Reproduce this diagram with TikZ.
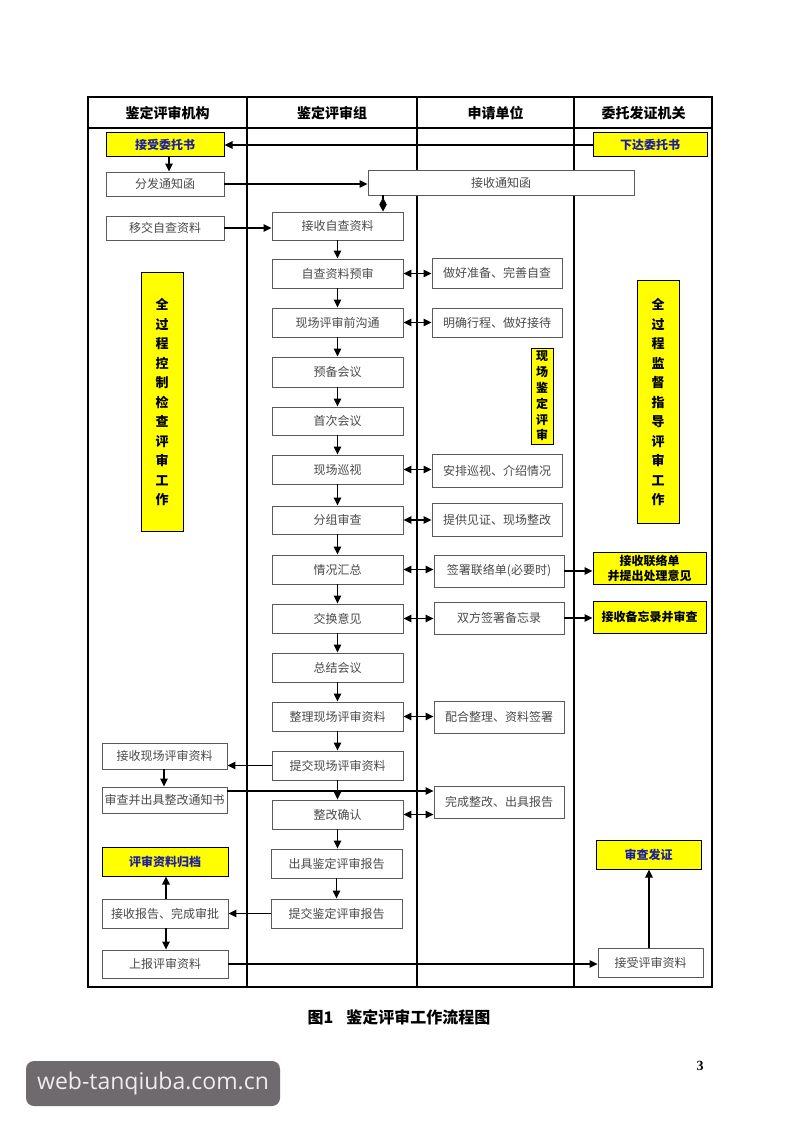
\documentclass[tikz,border=0pt]{standalone}
\usepackage{fontspec}
\setmainfont{Liberation Serif}
\newfontfamily\cjk{Noto Sans CJK SC}
\newfontfamily\wmfont{Open Sans}
\usetikzlibrary{arrows.meta}
\definecolor{boxgray}{HTML}{5A5A5A}
\definecolor{txtgray}{HTML}{4A4A4A}
\definecolor{ylw}{HTML}{FFFF00}
\definecolor{blu}{HTML}{1E1EA0}
\definecolor{wmgray}{HTML}{6E6A6E}
\definecolor{wmtext}{HTML}{EDEDED}
\newcommand\mybox[7]{\node[#6, minimum width={(#4-#2)*1pt}, minimum height={(#5-#3)*1pt}] (#1) at ({(#2+#4)/2},{(#3+#5)/2}) {#7};}
\begin{document}
\begin{tikzpicture}[x=1pt,y=-1pt,
  gbox/.style={draw=boxgray, line width=0.9pt, fill=white, text=txtgray, inner sep=0pt, align=center, font=\cjk\fontsize{12}{14}\selectfont},
  ybox/.style={draw=black, line width=1pt, fill=ylw, text=black, inner sep=0pt, align=center, font=\cjk\bfseries\fontsize{12}{15}\selectfont},
  bbox/.style={ybox, text=blu},
  vbox/.style={ybox, font=\cjk\bfseries\fontsize{13}{19.5}\selectfont},
  hdr/.style={font=\cjk\bfseries\fontsize{14}{16}\selectfont, inner sep=0pt},
  arr/.style={-{Triangle[length=8pt,width=7.5pt]}, line width=1.2pt},
  dbl/.style={{Triangle[length=8pt,width=7.5pt]}-{Triangle[length=8pt,width=7.5pt]}, line width=1.2pt},
  frame/.style={line width=1.2pt}
]
\useasboundingbox (0,0) rectangle (800,1131);
\fill[white] (0,0) rectangle (800,1131);

% table frame
\draw[frame] (88,128) -- (712,128);
\draw[frame] (247,97) -- (247,987);
\draw[frame] (417,97) -- (417,987);
\draw[frame] (574,97) -- (574,987);
\draw[line width=2.5pt] (88,97) rectangle (712,987);

\node[hdr] (h1) at (167.5,113) {鉴定评审机构};
\node[hdr] (h2) at (332,113) {鉴定评审组};
\node[hdr] (h3) at (495.5,113) {申请单位};
\node[hdr] (h4) at (643.5,113) {委托发证机关};

% middle column
\mybox{mA}{272}{212}{403}{240}{gbox}{接收自查资料}
\mybox{mB}{272}{259}{403}{288}{gbox}{自查资料预审}
\mybox{mC}{272}{308}{403}{337}{gbox}{现场评审前沟通}
\mybox{mD}{272}{357}{403}{387}{gbox}{预备会议}
\mybox{mE}{272}{407}{403}{435}{gbox}{首次会议}
\mybox{mF}{272}{455}{403}{484}{gbox}{现场巡视}
\mybox{mG}{272}{506}{403}{534}{gbox}{分组审查}
\mybox{mH}{272}{555}{403}{584}{gbox}{情况汇总}
\mybox{mI}{272}{604}{403}{633}{gbox}{交换意见}
\mybox{mJ}{272}{653}{403}{682}{gbox}{总结会议}
\mybox{mK}{272}{702}{403}{731}{gbox}{整理现场评审资料}
\mybox{mL}{272}{751}{403}{780}{gbox}{提交现场评审资料}
\mybox{mM}{272}{800}{403}{829}{gbox}{整改确认}
\mybox{mN}{271}{849}{402}{878}{gbox}{出具鉴定评审报告}
\mybox{mO}{271}{899}{402}{928}{gbox}{提交鉴定评审报告}

% applicant column
\mybox{rA}{432}{258}{562}{288}{gbox}{做好准备、完善自查}
\mybox{rB}{432}{308}{562}{337}{gbox}{明确行程、做好接待}
\mybox{rC}{432}{454}{562}{487}{gbox}{安排巡视、介绍情况}
\mybox{rD}{432}{503}{562}{536}{gbox}{提供见证、现场整改}
\mybox{rE}{434}{555}{564}{587}{gbox}{签署联络单(必要时)}
\mybox{rF}{434}{602}{564}{634}{gbox}{双方签署备忘录}
\mybox{rG}{434}{701}{564}{733}{gbox}{配合整理、资料签署}
\mybox{rH}{434}{786}{564}{818}{gbox}{完成整改、出具报告}

% left column
\mybox{lA}{106}{133}{224}{157}{bbox}{接受委托书}
\mybox{lB}{106}{172}{224}{196}{gbox}{分发通知函}
\mybox{lC}{106}{216}{224}{240}{gbox}{移交自查资料}
\mybox{lD}{102}{743}{227}{769}{gbox}{接收现场评审资料}
\mybox{lE}{102}{787}{227}{813}{gbox}{审查并出具整改通知书}
\mybox{lF}{102}{847}{228}{876}{bbox}{评审资料归档}
\mybox{lG}{102}{899}{228}{928}{gbox}{接收报告、完成审批}
\mybox{lH}{102}{950}{228}{978}{gbox}{上报评审资料}

% right column
\mybox{yA}{593}{133}{707}{157}{bbox}{下达委托书}
\mybox{yB}{593}{552}{706}{584}{ybox}{接收联络单\\并提出处理意见}
\mybox{yC}{593}{601}{706}{633}{ybox}{接收备忘录并审查}
\mybox{yD}{596}{840}{701}{869}{bbox}{审查发证}
\mybox{yE}{598}{948}{703}{977}{gbox}{接受评审资料}

% wide box
\mybox{recv}{368}{170}{634}{195}{gbox}{接收通知函}

% vertical yellow boxes
\mybox{vL}{141}{273}{183}{531}{vbox}{全\\过\\程\\控\\制\\检\\查\\评\\审\\工\\作}
\mybox{vR}{637}{281}{679}{523}{vbox}{全\\过\\程\\监\\督\\指\\导\\评\\审\\工\\作}
\mybox{vM}{531}{348}{553}{444}{ybox, font=\cjk\bfseries\fontsize{12}{15.8}\selectfont}{现\\场\\鉴\\定\\评\\审}

% connectors
\coordinate (dx) at (383,0);
\coordinate (ax) at (169,0);
\coordinate (bx) at (164,0);
\coordinate (cx) at (166,0);
\coordinate (ex) at (649,0);
\draw[arr] (yA.west) -- (yA.west -| lA.east);
\draw[arr] (ax |- lA.south) -- (ax |- lB.north);
\draw[arr] (lB.east) -- (lB.east -| recv.west);
\draw[-{Diamond[length=14pt,width=7.5pt]}, line width=1.2pt] (dx |- recv.south) -- (dx |- mA.north);
\draw[arr] (lC.east) -- (lC.east -| mA.west);

\foreach \a/\b in {mA/mB,mB/mC,mC/mD,mD/mE,mE/mF,mF/mG,mG/mH,mH/mI,mI/mJ,mJ/mK,mK/mL,mL/mM,mM/mN,mN/mO}
  \draw[arr] (\a.south) -- (\a.south |- \b.north);

\foreach \a/\b in {mB/rA,mC/rB,mF/rC,mG/rD,mH/rE,mI/rF,mK/rG,mM/rH}
  \draw[dbl] (\a.east) -- (\a.east -| \b.west);

\draw[arr] (rE.east) -- (rE.east -| yB.west);
\draw[arr] (rF.east) -- (rF.east -| yC.west);

\draw[arr] (mL.west) -- (mL.west -| lD.east);
\draw[arr] (bx |- lD.south) -- (bx |- lE.north);
\draw[arr] ([yshift=9pt]lE.east) -- ([yshift=9pt]lE.east -| rH.west);
\draw[arr] (mO.west) -- (mO.west -| lG.east);
\draw[arr] (cx |- lG.north) -- (cx |- lF.south);
\draw[arr] (cx |- lG.south) -- (cx |- lH.north);
\draw[arr] (lH.east) -- (lH.east -| yE.west);
\draw[arr] (ex |- yE.north) -- (ex |- yD.south);

% caption and page number
\node[font=\cjk\bfseries\fontsize{16}{18}\selectfont, inner sep=0pt] (cap) at (399,1017) {图1\hspace{13pt}鉴定评审工作流程图};
\node[font=\bfseries\fontsize{14}{16}\selectfont, inner sep=0pt] (pg) at (700,1066) {3};

% watermark
\node[fill=wmgray, rounded corners=8pt, minimum width=254pt, minimum height=45pt, inner sep=0pt, text=wmtext, font=\wmfont\fontsize{23}{26}\selectfont] (wm) at (153,1083.5) {web-tanqiuba.com.cn};
\end{tikzpicture}
\end{document}
